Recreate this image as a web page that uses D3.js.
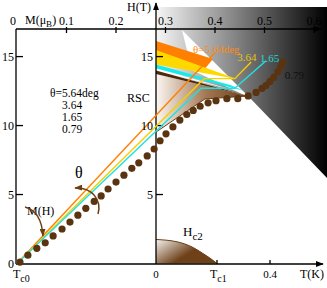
<!DOCTYPE html>
<html>
<head>
<meta charset="utf-8">
<script src="https://cdn.jsdelivr.net/npm/d3@7"></script>
<style>
  body { margin: 0; background: #fff; }
  svg { display: block; font-family: "Liberation Serif", "DejaVu Serif", serif; }
</style>
</head>
<body>
<div id="chart"></div>
<script>
var width = 327, height = 288;

// axis ticks
var mTicks = [0.1, 0.2, 0.3, 0.4, 0.5, 0.6];
var hTicks = [0, 5, 10, 15];
var tTc1 = 0.214;
var tTicks = [tTc1, 0.4];

// angle labels (deg)
var angles = ['5.64', '3.64', '1.65', '0.79'];
var angleColors = ['#ff8a10', '#e6c414', '#26d4d4', '#111'];

// M(H) curves for each angle : [M, H]
var lineOrange = [[0, 0], [0.400, 15.3]];
var lineYellow = [[0, 0], [0.378, 13.4], [0.440, 13.4], [0.473, 14.6]];
var lineCyan = [[0, 0], [0.372, 12.7], [0.440, 12.7], [0.503, 14.7]];
var dots079 = [
  [0.006, 0.1], [0.022, 0.6], [0.040, 1.1], [0.057, 1.5], [0.073, 2.0],
  [0.091, 2.5], [0.107, 3.0], [0.123, 3.5], [0.139, 4.0], [0.156, 4.5],
  [0.170, 4.9], [0.184, 5.4], [0.200, 5.9], [0.216, 6.4], [0.232, 6.9],
  [0.246, 7.3], [0.263, 7.8], [0.277, 8.3], [0.289, 8.9], [0.301, 9.4],
  [0.315, 9.9], [0.329, 10.4], [0.343, 10.8], [0.356, 11.1], [0.370, 11.4],
  [0.386, 11.65], [0.402, 11.8], [0.424, 11.95], [0.446, 11.95], [0.467, 12.15],
  [0.483, 12.4], [0.495, 12.7], [0.503, 12.9], [0.511, 13.2], [0.519, 13.5],
  [0.527, 13.9], [0.533, 14.3], [0.537, 14.6]
];

// phase diagram regions : [T, H]
var normalRegion = [[0, 18.6], [0.6, 18.6], [0.6, 6.2], [0.323, 12.14], [0, 14.03]];
var wedgeRegion = [[0.091, 16.93], [0.33, 12.0], [0.126, 14.03]];
var rscRegion = [[0, 13.74], [0.323, 12.14], [0.172, 11.93], [0, 9.53]];
var bandOrange = [[0, 16.13], [0.2, 14.83], [0.165, 13.96], [0, 14.9]];
var bandYellow = [[0, 15.48], [0.284, 13.38], [0, 14.43]];
var bandCyan = [[0, 14.43], [0.26, 12.94], [0.312, 12.5], [0, 14.14]];
var bandWhite = [[0, 14.14], [0.316, 12.32], [0, 13.99]];
var bandBrown = [[0, 13.99], [0.33, 12.11], [0, 13.74]];
var hc2 = [[0, 1.74], [0.07, 1.59], [0.13, 1.16], [0.165, 0.72], [0.196, 0.29], [0.214, 0]];

var brown = '#5a3311';

var xM = d3.scaleLinear().domain([0, 0.6]).range([17, 314]);
var xT = d3.scaleLinear().domain([0, 0.4]).range([156, 270]);
var yH = d3.scaleLinear().domain([0, 17]).range([263.5, 29]);

var svg = d3.select('#chart').append('svg')
  .attr('width', width)
  .attr('height', height);
var defs = svg.append('defs');

function grad(id, x1, y1, x2, y2, stops) {
  var g = defs.append('linearGradient').attr('id', id)
    .attr('gradientUnits', 'userSpaceOnUse')
    .attr('x1', x1).attr('y1', y1).attr('x2', x2).attr('y2', y2);
  stops.forEach(function(s){
    g.append('stop').attr('offset', s[0]).attr('stop-color', s[1]);
  });
}
grad('grayGrad', xT(0), 0, width, 0, [[0, '#f6f6f6'], [1, '#000']]);
grad('brownGrad', xT(0), 0, xT(0.323), 0, [[0, '#fbf7f3'], [0.55, '#a27652'], [1, '#6a3e17']]);
grad('domeGrad', xT(0), yH(1.9), xT(0.06), yH(0), [[0, '#ffffff'], [1, '#6e4119']]);

function marker(id, color) {
  defs.append('marker').attr('id', id)
    .attr('viewBox', '0 0 10 10')
    .attr('refX', 9).attr('refY', 5)
    .attr('markerWidth', 8).attr('markerHeight', 6)
    .attr('markerUnits', 'userSpaceOnUse')
    .attr('preserveAspectRatio', 'none')
    .attr('orient', 'auto')
    .append('path').attr('d', 'M0,0L10,5L0,10z').attr('fill', color);
}
marker('arrK', '#000');
marker('arrB', '#6b3d14');

var regionLine = d3.line().x(function(d){ return xT(d[0]); }).y(function(d){ return yH(d[1]); });
var mLine = d3.line().x(function(d){ return xM(d[0]); }).y(function(d){ return yH(d[1]); });

// regions of the phase diagram
function region(data, fill) {
  svg.append('path').attr('d', regionLine(data) + 'Z').attr('fill', fill);
}
region(normalRegion, 'url(#grayGrad)');
region(wedgeRegion, '#fff');
region(rscRegion, 'url(#brownGrad)');
svg.append('path')
  .attr('d', regionLine(rscRegion.slice(1)))
  .attr('fill', 'none').attr('stroke', '#6b3d14').attr('stroke-width', 1);
region(bandOrange, '#ff7f00');
region(bandYellow, '#ffd800');
region(bandCyan, '#14ecec');
region(bandWhite, '#fff');
region(bandBrown, '#4e2a0c');

// Hc2 dome
var dome = d3.line().x(function(d){ return xT(d[0]); }).y(function(d){ return yH(d[1]); })
  .curve(d3.curveMonotoneX);
svg.append('path')
  .attr('d', dome(hc2) + 'L' + xT(0) + ',' + yH(0) + 'Z')
  .attr('fill', 'url(#domeGrad)');
svg.append('path')
  .attr('d', dome(hc2))
  .attr('fill', 'none').attr('stroke', '#6b3d14').attr('stroke-width', 1);

// frame and axes
var ax = svg.append('g').attr('stroke', '#000').attr('stroke-width', 1.3);
ax.append('line').attr('x1', 16).attr('y1', yH(17)).attr('x2', 16).attr('y2', 264);
ax.append('line').attr('x1', 16).attr('y1', yH(17)).attr('x2', 321).attr('y2', yH(17))
  .attr('marker-end', 'url(#arrK)');
ax.append('line').attr('x1', 16).attr('y1', 264).attr('x2', 323).attr('y2', 264)
  .attr('marker-end', 'url(#arrK)');
ax.append('line').attr('x1', xT(0)).attr('y1', 264).attr('x2', xT(0)).attr('y2', 3)
  .attr('marker-end', 'url(#arrK)');

ax.selectAll('.lt').data(hTicks.slice(1)).enter().append('line')
  .attr('x1', 16).attr('x2', 23)
  .attr('y1', function(d){ return yH(d); }).attr('y2', function(d){ return yH(d); });
ax.selectAll('.rt').data(hTicks.slice(1)).enter().append('line')
  .attr('x1', xT(0)).attr('x2', xT(0) + 7)
  .attr('y1', function(d){ return yH(d); }).attr('y2', function(d){ return yH(d); });
ax.selectAll('.tt').data(mTicks).enter().append('line')
  .attr('x1', function(d){ return xM(d); }).attr('x2', function(d){ return xM(d); })
  .attr('y1', yH(17) - 2).attr('y2', yH(17) + 4);
ax.selectAll('.bt').data(tTicks).enter().append('line')
  .attr('x1', function(d){ return xT(d); }).attr('x2', function(d){ return xT(d); })
  .attr('y1', 264).attr('y2', 260);

// M(H) lines
svg.append('path').attr('d', mLine(lineOrange)).attr('fill', 'none')
  .attr('stroke', '#ff8000').attr('stroke-width', 1.4);
svg.append('path').attr('d', mLine(lineYellow)).attr('fill', 'none')
  .attr('stroke', '#f6d000').attr('stroke-width', 1.4);
svg.append('path').attr('d', mLine(lineCyan)).attr('fill', 'none')
  .attr('stroke', '#1ee2e2').attr('stroke-width', 1.4);

svg.selectAll('.dot').data(dots079).enter().append('circle')
  .attr('cx', function(d){ return xM(d[0]); })
  .attr('cy', function(d){ return yH(d[1]); })
  .attr('r', 3.6)
  .attr('fill', brown);

// text
function txt(x, y, s, size, anchor, color) {
  return svg.append('text').attr('x', x).attr('y', y)
    .attr('font-size', size).attr('text-anchor', anchor || 'start')
    .attr('fill', color || '#000').text(s);
}
function subTxt(x, y, main, sub, size, anchor) {
  var t = svg.append('text').attr('x', x).attr('y', y)
    .attr('font-size', size).attr('text-anchor', anchor || 'start');
  t.append('tspan').text(main);
  t.append('tspan').attr('dy', 4).attr('font-size', size - 2).text(sub);
  return t;
}

hTicks.forEach(function(h){
  txt(14, yH(h) + 4, h, 12, 'end');
  if (h > 0) txt(xT(0) - 3, yH(h) + 4, h, 12, 'end');
});
txt(13, 25, '0', 12, 'middle');
mTicks.forEach(function(m){ txt(xM(m), 25, m, 12, 'middle'); });
var mLab = svg.append('text').attr('x', 25).attr('y', 24).attr('font-size', 12);
mLab.append('tspan').text('M(μ');
mLab.append('tspan').attr('dy', 3).attr('font-size', 9).text('B');
mLab.append('tspan').attr('dy', -3).text(')');
txt(127, 11, 'H(T)', 12);

txt(xT(0), 278, '0', 11, 'middle');
subTxt(xT(tTc1) - 7, 278, 'T', 'c1', 12);
txt(xT(0.4), 278, '0.4', 11, 'middle');
txt(300, 278, 'T(K)', 12);
subTxt(13, 278, 'T', 'c0', 12);

txt(127, 102, 'RSC', 12);
txt(27, 215, 'M(H)', 12);
txt(75, 178, 'θ', 16);
subTxt(183, 236, 'H', 'c2', 13);

// angle legend on the left
txt(50, 97, 'θ=' + angles[0] + 'deg', 11.5);
txt(62, 109, angles[1], 11.5);
txt(62, 121, angles[2], 11.5);
txt(62, 133, angles[3], 11.5);

// angle labels at the end of each curve
var oEnd = lineOrange[lineOrange.length - 1];
var yEnd = lineYellow[lineYellow.length - 1];
var cEnd = lineCyan[lineCyan.length - 1];
var dEnd = dots079[dots079.length - 1];
txt(xM(oEnd[0]) - 22, yH(oEnd[1]) + 1, 'θ=' + angles[0] + 'deg', 11, 'start', angleColors[0]);
txt(xM(yEnd[0]) - 14, yH(yEnd[1]) - 1, angles[1], 11, 'start', angleColors[1]);
txt(xM(cEnd[0]) - 6, yH(cEnd[1]) + 1, angles[2], 11, 'start', angleColors[2]);
txt(xM(dEnd[0]) + 2, yH(dEnd[1]) + 17, angles[3], 11, 'start', angleColors[3]);

// curved arrows
svg.append('path').attr('d', 'M25,207 C36,210 42,220 43,236')
  .attr('fill', 'none').attr('stroke', '#6b3d14').attr('stroke-width', 1.3)
  .attr('marker-end', 'url(#arrB)');
svg.append('path').attr('d', 'M98,214 C102,200 92,187 75,188')
  .attr('fill', 'none').attr('stroke', '#6b3d14').attr('stroke-width', 1.5)
  .attr('marker-end', 'url(#arrB)');
</script>
</body>
</html>
